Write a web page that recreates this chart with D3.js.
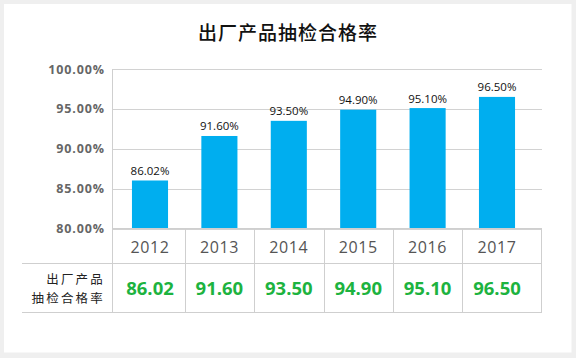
<!DOCTYPE html>
<html><head><meta charset="utf-8">
<script src="https://cdn.jsdelivr.net/npm/d3@7"></script>
<style>
html,body{margin:0;padding:0;background:#efefef;}
svg{display:block;}
</style></head>
<body><svg id="c" width="576" height="358"></svg>
<script>
const title = "出厂产品抽检合格率";
const years = ["2012","2013","2014","2015","2016","2017"];
const rates = [86.02, 91.60, 93.50, 94.90, 95.10, 96.50];
const yTicks = [80, 85, 90, 95, 100];
const rowLabel = ["出厂产品", "抽检合格率"];

const svg = d3.select("#c");
const cjk = "'Noto Sans CJK SC','Noto Sans',sans-serif";
const num = "'Open Sans','Noto Sans',sans-serif";

svg.append("rect").attr("x",4).attr("y",4).attr("width",567.5).attr("height",348.5).attr("fill","#fff");

svg.append("text").attr("x",288).attr("y",31).attr("text-anchor","middle")
  .attr("dominant-baseline","central").attr("font-family",cjk).attr("font-size",19)
  .attr("font-weight",500).attr("fill","#111").attr("letter-spacing",1).text(title);

const left = 112, right = 542;
const x = d3.scaleBand().domain(years).range([115.3, 531.7]).paddingInner(0.48).paddingOuter(0.24);
const y = d3.scaleLinear().domain([80,100]).range([228.5, 69]);

// gridlines
svg.append("g").selectAll("line").data(yTicks).join("line")
  .attr("x1",left).attr("x2",right).attr("y1",d=>Math.round(y(d))+0.5).attr("y2",d=>Math.round(y(d))+0.5)
  .attr("stroke","#d2d2d2").attr("stroke-width",1);

// y axis labels
const yAxis = d3.axisLeft(y).tickValues(yTicks).tickSize(0).tickPadding(7)
  .tickFormat(d=>d.toFixed(2)+"%");
const ga = svg.append("g").attr("transform",`translate(${left},0)`).call(yAxis);
ga.select(".domain").remove();
ga.selectAll("text").attr("font-family",num).attr("font-size",12.5).attr("font-weight",700)
  .attr("fill","#666").attr("letter-spacing",0.9);

// bars
svg.append("g").selectAll("rect").data(rates).join("rect")
  .attr("x",(d,i)=>x(years[i])).attr("width",x.bandwidth())
  .attr("y",d=>y(d)).attr("height",d=>y(80)-y(d)).attr("fill","#00aeef");

svg.append("g").selectAll("text").data(rates).join("text")
  .attr("x",(d,i)=>x(years[i])+x.bandwidth()/2).attr("y",d=>y(d)-5.5)
  .attr("text-anchor","middle").attr("font-family",num).attr("font-size",11.5)
  .attr("fill","#111").text(d=>d.toFixed(2)+"%");

// table
const rowTop = 228.5, rowMid = 263.5, rowBot = 312.5;
const step = x.step();
const seps = years.slice(1).map(yr=>x(yr)+x.bandwidth()/2-step/2);
const tg = svg.append("g").attr("stroke","#cfcfcf").attr("stroke-width",1);
tg.append("line").attr("x1",left).attr("x2",right).attr("y1",rowTop).attr("y2",rowTop);
tg.append("line").attr("x1",22).attr("x2",right).attr("y1",rowMid).attr("y2",rowMid);
tg.append("line").attr("x1",22).attr("x2",right).attr("y1",rowBot).attr("y2",rowBot);
tg.append("line").attr("x1",left+0.5).attr("x2",left+0.5).attr("y1",y(100)).attr("y2",rowBot);
tg.append("line").attr("x1",right-0.5).attr("x2",right-0.5).attr("y1",rowTop).attr("y2",rowBot);
tg.selectAll(".sep").data(seps).join("line").attr("class","sep")
  .attr("x1",d=>Math.round(d)+0.5).attr("x2",d=>Math.round(d)+0.5).attr("y1",rowTop).attr("y2",rowBot);

svg.append("g").selectAll("text").data(years).join("text")
  .attr("x",d=>x(d)+x.bandwidth()/2).attr("y",247).attr("dominant-baseline","central")
  .attr("text-anchor","middle").attr("font-family",num).attr("font-size",16)
  .attr("fill","#555").attr("letter-spacing",0.6).text(d=>d);

svg.append("g").selectAll("text").data(rates).join("text")
  .attr("x",(d,i)=>x(years[i])+x.bandwidth()/2).attr("y",287).attr("dominant-baseline","central")
  .attr("text-anchor","middle").attr("font-family",num).attr("font-size",18.5).attr("font-weight",700)
  .attr("fill","#1db33f").text(d=>d.toFixed(2));

svg.append("g").selectAll("text").data(rowLabel).join("text")
  .attr("x",105).attr("y",(d,i)=>278.5+i*19).attr("dominant-baseline","central")
  .attr("text-anchor","end").attr("font-family",cjk).attr("font-size",12.5)
  .attr("fill","#222").attr("letter-spacing",2.2).text(d=>d);
</script></body></html>
